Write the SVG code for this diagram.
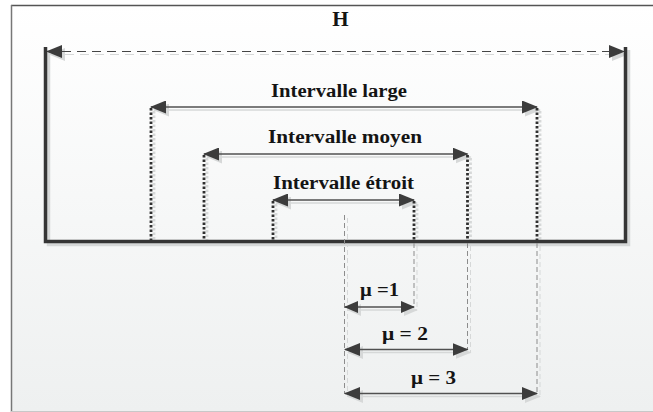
<svg xmlns="http://www.w3.org/2000/svg" xmlns:xlink="http://www.w3.org/1999/xlink" width="653" height="412" viewBox="0 0 653 412">
<defs>
<linearGradient id="bg" x1="0" y1="0" x2="0" y2="1">
<stop offset="0" stop-color="#ffffff"/>
<stop offset="1" stop-color="#eef0f0"/>
</linearGradient>
<marker id="ah" markerUnits="userSpaceOnUse" markerWidth="16" markerHeight="13" refX="15" refY="6.5" orient="auto-start-reverse">
<path d="M0,0 L16,6.5 L0,13 Z" fill="#3c3c3c"/>
</marker>
<marker id="ahs" markerUnits="userSpaceOnUse" markerWidth="14" markerHeight="12" refX="13" refY="6" orient="auto-start-reverse">
<path d="M0,0 L14,6 L0,12 Z" fill="#3c3c3c"/>
</marker>
<filter id="sh" x="-5%" y="-5%" width="110%" height="110%">
<feFlood flood-color="#d6d8d8"/>
<feComposite in2="SourceAlpha" operator="in"/>
</filter>
<style>
.lbl{font-family:"Liberation Serif","Times New Roman",serif;font-weight:bold;font-size:18px;fill:#141414;text-anchor:middle}
.big{font-size:21px}
.mu{font-family:"Liberation Serif","Times New Roman",serif;font-weight:bold;font-size:18px;fill:#141414;text-anchor:middle}
.frame{stroke:#353535;stroke-width:3.5;fill:none}
.dim{stroke:#505050;stroke-width:1.5;fill:none}
.dot{stroke:#303030;stroke-width:2.8;stroke-dasharray:2.5 2;fill:none}
.gd{stroke:#8c8c8c;stroke-width:1;stroke-dasharray:5 3;fill:none}
.hd{stroke:#454545;stroke-width:1.2;stroke-dasharray:9 6;fill:none}
</style>
</defs>
<rect x="0" y="0" width="653" height="412" fill="#ffffff"/>
<rect x="11" y="5" width="642" height="406" fill="url(#bg)"/>
<line x1="11" y1="5.5" x2="653" y2="5.5" stroke="#555" stroke-width="1.5"/>
<line x1="11.5" y1="5" x2="11.5" y2="412" stroke="#777" stroke-width="1.5"/>
<line x1="11" y1="411.5" x2="653" y2="411.5" stroke="#c8c8c8" stroke-width="1"/>

<use xlink:href="#connectors" transform="translate(3,3)" filter="url(#sh)"/>

<g id="connectors">
<line class="hd" x1="47" y1="51.5" x2="624" y2="51.5" marker-start="url(#ah)" marker-end="url(#ah)"/>
<path class="frame" d="M45.5,47 V241.5 H625.5 V47"/>
<line class="dim" x1="151" y1="107" x2="537" y2="107" marker-start="url(#ah)" marker-end="url(#ah)"/>
<line class="dim" x1="204" y1="154" x2="467.5" y2="154" marker-start="url(#ah)" marker-end="url(#ah)"/>
<line class="dim" x1="273" y1="200" x2="414" y2="200" marker-start="url(#ah)" marker-end="url(#ah)"/>
<line class="dot" x1="151" y1="108" x2="151" y2="240"/>
<line class="dot" x1="537" y1="108" x2="537" y2="240"/>
<line class="dot" x1="204" y1="155" x2="204" y2="240"/>
<line class="dot" x1="467.5" y1="155" x2="467.5" y2="240"/>
<line class="dot" x1="273" y1="201" x2="273" y2="240"/>
<line class="dot" x1="414" y1="201" x2="414" y2="240"/>
<line class="gd" x1="344.5" y1="215" x2="344.5" y2="394"/>
<line class="gd" x1="414" y1="243" x2="414" y2="307"/>
<line class="gd" x1="467.5" y1="243" x2="467.5" y2="350"/>
<line class="gd" x1="537" y1="243" x2="537" y2="394"/>
<line class="dim" x1="345" y1="307" x2="414" y2="307" marker-start="url(#ahs)" marker-end="url(#ahs)"/>
<line class="dim" x1="345" y1="349.5" x2="467.5" y2="349.5" marker-start="url(#ah)" marker-end="url(#ah)"/>
<line class="dim" x1="345" y1="393.5" x2="537" y2="393.5" marker-start="url(#ah)" marker-end="url(#ah)"/>
</g>

<g id="label-H"><text class="lbl big" x="340.5" y="25.5">H</text></g>
<g id="node-large"><text class="lbl" x="339" y="96.5" textLength="136" lengthAdjust="spacingAndGlyphs">Intervalle large</text></g>
<g id="node-moyen"><text class="lbl" x="345" y="143" textLength="154" lengthAdjust="spacingAndGlyphs">Intervalle moyen</text></g>
<g id="node-etroit"><text class="lbl" x="343.5" y="188.5" textLength="141" lengthAdjust="spacingAndGlyphs">Intervalle étroit</text></g>
<g id="node-mu1"><text class="mu" x="379.5" y="296" textLength="39" lengthAdjust="spacingAndGlyphs">μ =1</text></g>
<g id="node-mu2"><text class="mu" x="405" y="340" textLength="46" lengthAdjust="spacingAndGlyphs">μ = 2</text></g>
<g id="node-mu3"><text class="mu" x="433.5" y="384" textLength="45" lengthAdjust="spacingAndGlyphs">μ = 3</text></g>
</svg>
